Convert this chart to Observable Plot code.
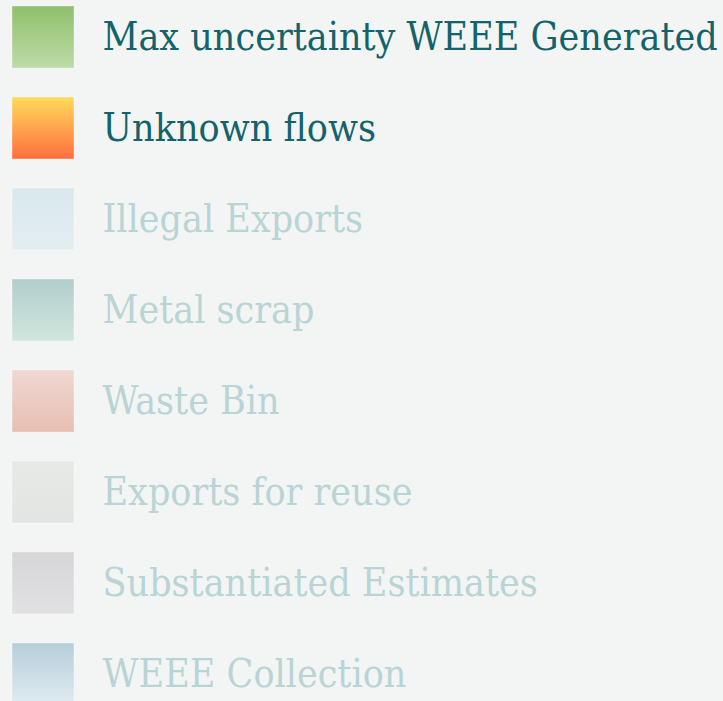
<!DOCTYPE html>
<html>
<head>
<meta charset="utf-8">
<script src="https://cdn.jsdelivr.net/npm/d3@7"></script>
<script src="https://cdn.jsdelivr.net/npm/@observablehq/plot@0.6"></script>
<style>
  html, body { margin: 0; padding: 0; background: #f3f5f4; overflow: hidden; }
  #chart svg { display: block; }
</style>
</head>
<body>
<div id="chart"></div>
<script>
const categories = [
  "Max uncertainty WEEE Generated",
  "Unknown flows",
  "Illegal Exports",
  "Metal scrap",
  "Waste Bin",
  "Exports for reuse",
  "Substantiated Estimates",
  "WEEE Collection"
];
const active = [true, true, false, false, false, false, false, false];
const gradientTop = ["#8fbf6b", "#ffdb5c", "#d9e8ec", "#b2cdcd", "#efd8d1", "#e6e9e6", "#d6d6d8", "#b6cedb"];
const gradientBottom = ["#bddca9", "#ff6e3f", "#e3eef1", "#d1e7df", "#e8beb1", "#e2e5e2", "#e1e1e3", "#e0ecf0"];

const data = categories.map((name, i) => ({
  name, active: active[i], top: gradientTop[i], bottom: gradientBottom[i], grad: `url(#swatch-grad-${i})`
}));

const W = 723, H = 701;
const chart = Plot.plot({
  width: W,
  height: H,
  margin: 0,
  style: {background: "#f3f5f4"},
  x: {domain: [0, W], range: [0, W], axis: null},
  y: {type: "band", domain: categories, range: [6, 705], paddingInner: 29 / 91, paddingOuter: 0, axis: null},
  color: {type: "identity"},
  marks: [
    Plot.barX(data, {y: "name", x1: 12, x2: 74, fill: "grad", stroke: "#ffffff", strokeOpacity: 0.35, strokeWidth: 1}),
    Plot.text(data, {
      y: "name", x: 102, text: "name", textAnchor: "start",
      fill: d => d.active ? "#15636a" : "#b9d4d4",
      fontSize: 39, fontFamily: "DejaVu Serif Condensed, DejaVu Serif, serif"
    })
  ]
});

// gradient definitions for the swatches
const defs = d3.select(chart).insert("defs", ":first-child");
data.forEach((d, i) => {
  const g = defs.append("linearGradient").attr("id", `swatch-grad-${i}`).attr("x1", 0).attr("x2", 0).attr("y1", 0).attr("y2", 1);
  g.append("stop").attr("offset", "0%").attr("stop-color", d.top);
  g.append("stop").attr("offset", "100%").attr("stop-color", d.bottom);
});

document.getElementById("chart").appendChild(chart);
</script>
</body>
</html>
